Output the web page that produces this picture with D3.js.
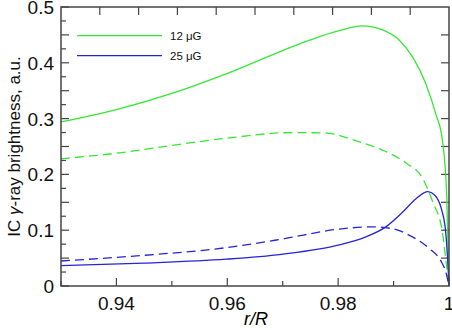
<!DOCTYPE html>
<html>
<head>
<meta charset="utf-8">
<script src="https://cdn.jsdelivr.net/npm/d3@7"></script>
<style>
  body { margin: 0; background: #fff; }
  svg text { font-family: "Liberation Sans", Arial, sans-serif; }
</style>
</head>
<body>
<div id="chart"></div>
<script>
// curves: [r/R, brightness]
const green12Solid = [
  [0.93, 0.294], [0.94, 0.316], [0.95, 0.345], [0.96, 0.381], [0.97, 0.422],
  [0.975, 0.441], [0.98, 0.457], [0.9844, 0.466], [0.988, 0.459], [0.991, 0.441],
  [0.9934, 0.411], [0.9958, 0.363], [0.9976, 0.309], [0.9988, 0.262], [0.9996, 0.16], [1.0, 0.0]
];
const green12Dashed = [
  [0.93, 0.228], [0.94, 0.238], [0.95, 0.252], [0.96, 0.265], [0.9718, 0.275], [0.9778, 0.274],
  [0.9836, 0.259], [0.9886, 0.241], [0.9923, 0.22], [0.9951, 0.195], [0.9971, 0.15],
  [0.9988, 0.097], [0.9994, 0.05], [1.0, 0.0]
];
const blue25Solid = [
  [0.93, 0.0364], [0.945, 0.041], [0.9598, 0.048], [0.9698, 0.0568], [0.9802, 0.0735],
  [0.985, 0.088], [0.9886, 0.106], [0.9917, 0.133], [0.9941, 0.157], [0.9962, 0.169],
  [0.9974, 0.163], [0.9986, 0.139], [0.9994, 0.097], [0.9998, 0.04], [1.0, 0.0]
];
const blue25Dashed = [
  [0.93, 0.0448], [0.945, 0.055], [0.9598, 0.0687], [0.9698, 0.084], [0.9802, 0.102],
  [0.986, 0.106], [0.9896, 0.103], [0.9934, 0.088], [0.9964, 0.0675], [0.9986, 0.0436],
  [0.9994, 0.026], [1.0, 0.0]
];
const xTickLabels = [0.94, 0.96, 0.98, 1];
const yTickLabels = [0, 0.1, 0.2, 0.3, 0.4, 0.5];
const legendNames = ["12 \u03bcG", "25 \u03bcG"];

const W = 452, H = 330;
const m = { left: 61, right: 3, top: 7, bottom: 44 };
const green = "#33e833", blue = "#2424d8", frame = "#444";

const svg = d3.select("#chart").append("svg")
  .attr("width", W).attr("height", H);

const x = d3.scaleLinear().domain([0.93, 1.0]).range([m.left, W - m.right]);
const y = d3.scaleLinear().domain([0, 0.5]).range([H - m.bottom, m.top]);

const g = svg.append("g");

// ticks, drawn inward
function ticks(vals, len, side) {
  g.selectAll(null).data(vals).enter().append("line")
    .attr("stroke", frame).attr("stroke-width", 1.2)
    .each(function (v) {
      const s = d3.select(this);
      if (side === "bottom") s.attr("x1", x(v)).attr("x2", x(v)).attr("y1", y(0)).attr("y2", y(0) - len);
      if (side === "top") s.attr("x1", v).attr("x2", v).attr("y1", y(0.5)).attr("y2", y(0.5) + len);
      if (side === "left") s.attr("y1", y(v)).attr("y2", y(v)).attr("x1", x(0.93)).attr("x2", x(0.93) + len);
      if (side === "right") s.attr("y1", y(v)).attr("y2", y(v)).attr("x1", x(1)).attr("x2", x(1) - len);
    });
}
ticks(d3.range(0.93, 1.0001, 0.01).filter((v, i) => i % 2 === 1), 8, "bottom");
ticks(d3.range(0.93, 1.0001, 0.01).filter((v, i) => i % 2 === 0), 5, "bottom");
ticks(d3.range(0, 0.5001, 0.05), 8, "left");
ticks(d3.range(0.025, 0.5, 0.05), 5, "left");
ticks(d3.range(0.05, 0.5, 0.05), 8, "right");
ticks(d3.range(1, 10).map(i => m.left + (W - m.right - m.left) * i / 10), 8, "top");

// tick labels
g.selectAll(null).data(xTickLabels).enter().append("text")
  .attr("x", d => x(d)).attr("y", y(0) + 24)
  .attr("text-anchor", "middle").attr("font-size", 19).attr("fill", "#111")
  .text(d => d === 1 ? "1" : d3.format(".2f")(d));
g.selectAll(null).data(yTickLabels).enter().append("text")
  .attr("x", m.left - 7).attr("y", d => y(d) + 7)
  .attr("text-anchor", "end").attr("font-size", 19).attr("fill", "#111")
  .text(d => d === 0 ? "0" : d3.format(".1f")(d));

// curves
const line = d3.line().x(d => x(d[0])).y(d => y(d[1])).curve(d3.curveMonotoneX);
const curves = [
  { data: green12Solid, color: green, dash: null },
  { data: green12Dashed, color: green, dash: "9,5" },
  { data: blue25Solid, color: blue, dash: null },
  { data: blue25Dashed, color: blue, dash: "9,5" }
];
g.selectAll(null).data(curves).enter().append("path")
  .attr("d", d => line(d.data))
  .attr("fill", "none")
  .attr("stroke", d => d.color)
  .attr("stroke-width", 1.3)
  .attr("stroke-dasharray", d => d.dash);

// frame
g.append("rect")
  .attr("x", m.left).attr("y", m.top)
  .attr("width", W - m.right - m.left).attr("height", H - m.bottom - m.top)
  .attr("fill", "none").attr("stroke", frame).attr("stroke-width", 1.5);

// legend
const leg = g.selectAll(null).data(legendNames).enter().append("g")
  .attr("transform", (d, i) => `translate(77, ${35.7 + i * 20})`);
leg.append("line").attr("x1", 0).attr("x2", 85)
  .attr("stroke", (d, i) => i === 0 ? green : blue).attr("stroke-width", 1.3);
leg.append("text").attr("x", 93).attr("y", 4.5)
  .attr("font-size", 11.5).attr("fill", "#111").text(d => d);

// axis titles
svg.append("text")
  .attr("x", (m.left + W - m.right) / 2 + 1).attr("y", 325)
  .attr("text-anchor", "middle").attr("font-size", 18).attr("font-style", "italic")
  .text("r/R");
const yl = svg.append("text")
  .attr("transform", `translate(20, ${(m.top + H - m.bottom) / 2}) rotate(-90)`)
  .attr("text-anchor", "middle").attr("font-size", 17).attr("fill", "#111");
yl.append("tspan").text("IC ");
yl.append("tspan").attr("font-style", "italic").text("\u03b3");
yl.append("tspan").text("-ray brightness, a.u.");
</script>
</body>
</html>
